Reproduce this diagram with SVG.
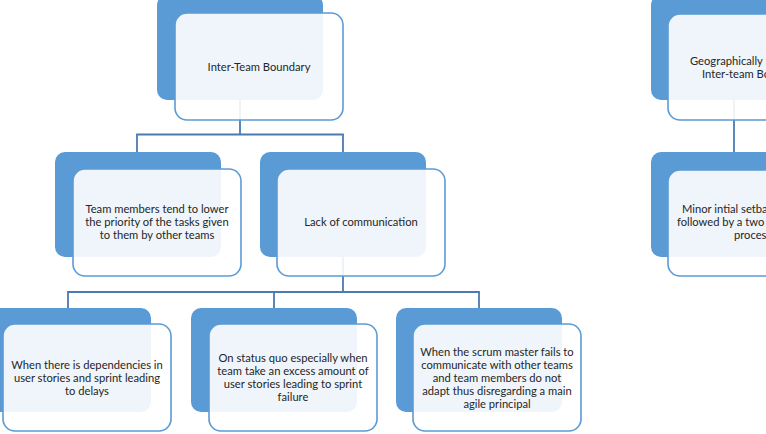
<svg xmlns="http://www.w3.org/2000/svg" width="766" height="434" viewBox="0 0 766 434">
<style>
.dk{fill:#5b9bd5}
.lt{fill:#ffffff;fill-opacity:0.9;stroke:#5b9bd5;stroke-width:1.6}
.cn{fill:none;stroke:#4a7ab2;stroke-width:1.8}
text{font-family:Lato,"Liberation Sans",sans-serif;font-size:11.2px;fill:#262626;text-anchor:middle}
.st{text-anchor:start}
</style>
<rect width="766" height="434" fill="#ffffff"/>
<g id="connectors">
<path class="cn" d="M240 100V134.5M137 152V134.5H343V152"/>
<path class="cn" d="M343 257V292M68 308V292H479V308M274 292V308"/>
<path class="cn" d="M734 100V152"/>
</g>
<g id="n-root">
<rect class="dk" x="157" y="-5" width="166" height="105" rx="10"/>
<rect class="lt" x="175" y="13" width="168" height="107" rx="12"/>
<text x="259" y="71">Inter-Team Boundary</text>
</g>
<g id="n-priority">
<rect class="dk" x="55" y="152" width="166" height="105" rx="10"/>
<rect class="lt" x="73" y="169" width="168" height="107" rx="12"/>
<text x="157" y="213">Team members tend to lower</text>
<text x="157" y="226">the priority of the tasks given</text>
<text x="157" y="239">to them by other teams</text>
</g>
<g id="n-comm">
<rect class="dk" x="260" y="152" width="166" height="105" rx="10"/>
<rect class="lt" x="277" y="169" width="168" height="107" rx="12"/>
<text x="361" y="226">Lack of communication</text>
</g>
<g id="n-deps">
<rect class="dk" x="-15" y="308" width="166" height="104" rx="10"/>
<rect class="lt" x="3" y="324" width="168" height="107" rx="12"/>
<text x="87" y="369">When there is dependencies in</text>
<text x="87" y="382">user stories and sprint leading</text>
<text x="87" y="395">to delays</text>
</g>
<g id="n-status">
<rect class="dk" x="191" y="308" width="166" height="104" rx="10"/>
<rect class="lt" x="209" y="324" width="168" height="107" rx="12"/>
<text x="293" y="362">On status quo especially when</text>
<text x="293" y="375">team take an excess amount of</text>
<text x="293" y="388">user stories leading to sprint</text>
<text x="293" y="401">failure</text>
</g>
<g id="n-scrum">
<rect class="dk" x="396" y="308" width="166" height="104" rx="10"/>
<rect class="lt" x="413" y="324" width="168" height="107" rx="12"/>
<text x="497" y="356">When the scrum master fails to</text>
<text x="497" y="369">communicate with other teams</text>
<text x="497" y="382">and team members do not</text>
<text x="497" y="395">adapt thus disregarding a main</text>
<text x="497" y="408">agile principal</text>
</g>
<g id="n-geo">
<rect class="dk" x="651" y="-5" width="166" height="105" rx="10"/>
<rect class="lt" x="668" y="14" width="168" height="106" rx="12"/>
<text class="st" x="690" y="65">Geographically Distributed</text>
<text class="st" x="702" y="78">Inter-team Boundary</text>
</g>
<g id="n-minor">
<rect class="dk" x="651" y="152" width="166" height="105" rx="10"/>
<rect class="lt" x="668" y="170" width="168" height="106" rx="12"/>
<text class="st" x="682" y="213">Minor intial setbacks which is</text>
<text class="st" x="677" y="226">followed by a two way learning</text>
<text class="st" x="734" y="239">process</text>
</g>
</svg>
